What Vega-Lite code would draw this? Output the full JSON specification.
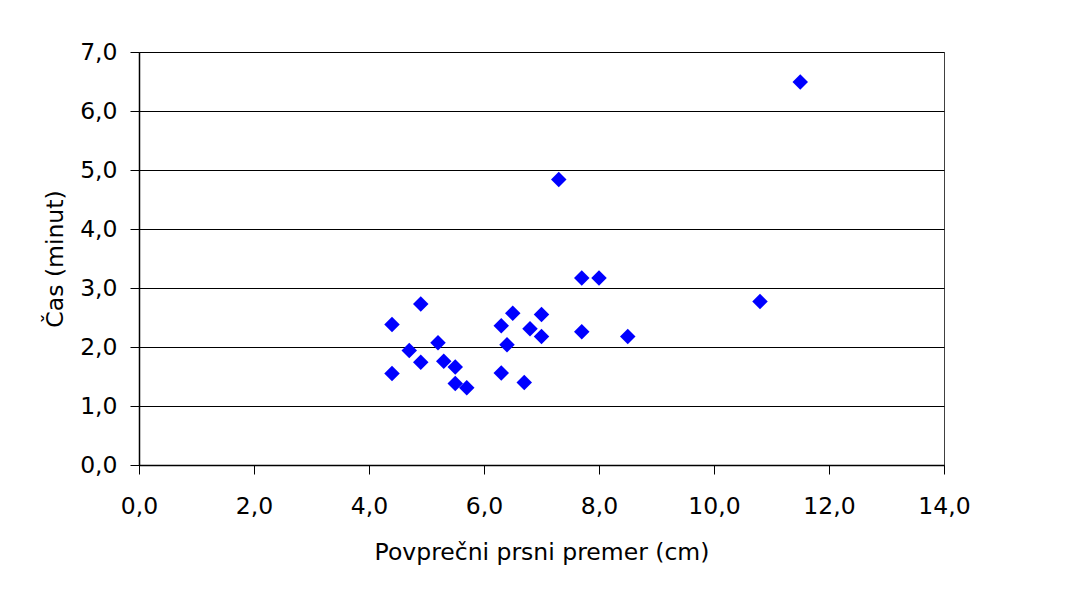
{
  "$schema": "https://vega.github.io/schema/vega-lite/v6.json",
  "width": 805,
  "height": 413,
  "autosize": {"type": "none"},
  "padding": {"left": 139, "top": 52, "right": 138, "bottom": 145},
  "background": "white",
  "config": {
    "font": "DejaVu Sans",
    "view": {"stroke": "#404040", "strokeWidth": 1},
    "axis": {
      "labelFont": "DejaVu Sans",
      "titleFont": "DejaVu Sans",
      "labelFontSize": 23.5,
      "titleFontSize": 23.5,
      "labelColor": "black",
      "titleColor": "black",
      "titleFontWeight": "normal",
      "domainColor": "black",
      "tickColor": "black",
      "tickSize": 9,
      "gridColor": "black",
      "gridWidth": 1,
      "gridOpacity": 1,
      "labelFlush": false
    }
  },
  "data": {
    "values": [
      {"premer": 4.4, "cas": 2.38},
      {"premer": 4.9, "cas": 2.73},
      {"premer": 4.4, "cas": 1.55},
      {"premer": 4.7, "cas": 1.94},
      {"premer": 4.9, "cas": 1.74},
      {"premer": 5.2, "cas": 2.07},
      {"premer": 5.3, "cas": 1.76},
      {"premer": 5.5, "cas": 1.66},
      {"premer": 5.5, "cas": 1.38},
      {"premer": 5.7, "cas": 1.31},
      {"premer": 6.3, "cas": 2.36},
      {"premer": 6.5, "cas": 2.57},
      {"premer": 6.4, "cas": 2.04},
      {"premer": 6.3, "cas": 1.56},
      {"premer": 6.7, "cas": 1.40},
      {"premer": 6.8, "cas": 2.31},
      {"premer": 7.0, "cas": 2.55},
      {"premer": 7.0, "cas": 2.18},
      {"premer": 7.7, "cas": 2.26},
      {"premer": 8.5, "cas": 2.18},
      {"premer": 7.3, "cas": 4.84},
      {"premer": 7.7, "cas": 3.17},
      {"premer": 8.0, "cas": 3.17},
      {"premer": 10.8, "cas": 2.77},
      {"premer": 11.5, "cas": 6.49}
    ]
  },
  "mark": {"type": "point", "shape": "diamond", "filled": true, "color": "#0000FF", "opacity": 1, "size": 240, "strokeWidth": 0},
  "encoding": {
    "x": {
      "field": "premer",
      "type": "quantitative",
      "scale": {"domain": [0, 14], "nice": false},
      "axis": {
        "title": "Povprečni prsni premer (cm)",
        "values": [0, 2, 4, 6, 8, 10, 12, 14],
        "labelExpr": "replace(format(datum.value, '.1f'), '.', ',')",
        "grid": false,
        "labelPadding": 20,
        "titlePadding": 23,
        "domainWidth": 1.5
      }
    },
    "y": {
      "field": "cas",
      "type": "quantitative",
      "scale": {"domain": [0, 7], "nice": false},
      "axis": {
        "title": "Čas (minut)",
        "values": [0, 1, 2, 3, 4, 5, 6, 7],
        "labelExpr": "replace(format(datum.value, '.1f'), '.', ',')",
        "grid": true,
        "labelPadding": 13,
        "titlePadding": 12,
        "domainWidth": 1.5
      }
    }
  }
}
